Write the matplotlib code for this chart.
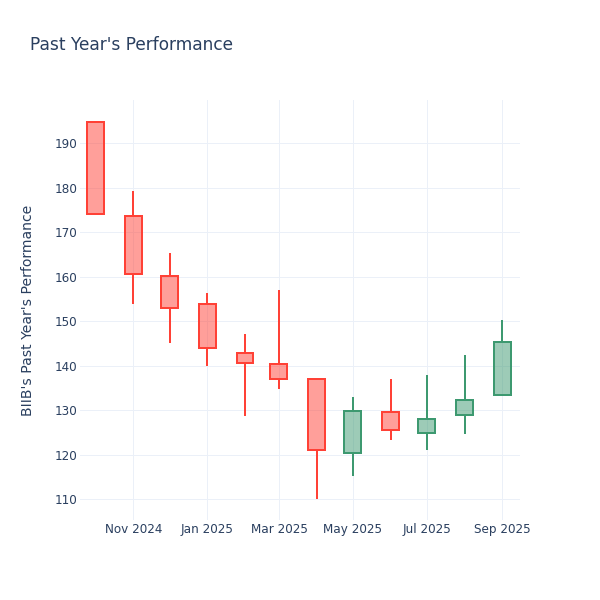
import numpy as np
import pandas as pd
import matplotlib
matplotlib.use('Agg')
import matplotlib.pyplot as plt
import matplotlib.dates as mdates
from matplotlib.patches import Rectangle

# monthly candles, BIIB
months = pd.date_range('2024-10-01', periods=12, freq='MS')
opens = [194.7, 173.7, 160.2, 153.9, 142.8, 140.4, 136.9, 120.4, 129.6, 124.9, 129.0, 133.5]
highs = [194.9, 179.3, 165.3, 156.4, 147.1, 157.1, 137.3, 133.0, 136.9, 137.8, 142.3, 150.3]
lows = [174.0, 153.8, 145.1, 139.9, 128.7, 134.8, 110.1, 115.3, 123.3, 121.1, 124.6, 133.5]
closes = [174.0, 160.7, 152.9, 144.0, 140.5, 136.9, 121.0, 129.9, 125.5, 128.1, 132.3, 145.2]

title = "Past Year's Performance"
ylabel = "BIIB's Past Year's Performance"

inc_color = '#3D9970'
dec_color = '#FF4136'
text_color = '#2a3f5f'
grid_color = '#EBF0F8'

plt.rcParams['font.family'] = ['DejaVu Sans']

fig = plt.figure(figsize=(6, 6), dpi=100)
ax = fig.add_axes([80 / 600, 80 / 600, 440 / 600, 420 / 600])

px = 72 / 100
width = 14  # days

for d, o, h, l, c in zip(months, opens, highs, lows, closes):
    col = inc_color if c >= o else dec_color
    x = mdates.date2num(d)
    lo, hi = min(o, c), max(o, c)
    # whiskers outside the body only
    ax.vlines(x, l, lo, color=col, lw=2 * px, zorder=2)
    ax.vlines(x, hi, h, color=col, lw=2 * px, zorder=2)
    ax.add_patch(Rectangle((x - width / 2, lo), width, hi - lo,
                           facecolor=col, alpha=0.5, edgecolor='none', zorder=3))
    ax.add_patch(Rectangle((x - width / 2, lo), width, hi - lo,
                           facecolor='none', edgecolor=col, lw=2 * px, zorder=4))

ax.set_xlim(mdates.date2num(pd.Timestamp('2024-09-18')),
            mdates.date2num(pd.Timestamp('2025-09-15 16:00')))
ax.set_ylim(105.3, 199.7)
ax.set_yticks(np.arange(110, 191, 10))
ax.xaxis.set_major_locator(mdates.MonthLocator(bymonth=[1, 3, 5, 7, 9, 11]))
ax.xaxis.set_major_formatter(mdates.DateFormatter('%b %Y'))

for s in ax.spines.values():
    s.set_visible(False)
ax.grid(True, color=grid_color, lw=1 * px, zorder=0)
ax.set_axisbelow(True)
ax.tick_params(length=0, labelsize=12 * px, labelcolor=text_color, pad=2)

fig.text(30 / 600, 1 - 45 / 600, title, fontsize=17 * px, color=text_color,
         ha='left', va='center')
fig.text(28 / 600, 1 - 310 / 600, ylabel, fontsize=14 * px, color=text_color,
         rotation=90, ha='center', va='center')

fig.savefig('out.png', dpi=100, facecolor='white')
